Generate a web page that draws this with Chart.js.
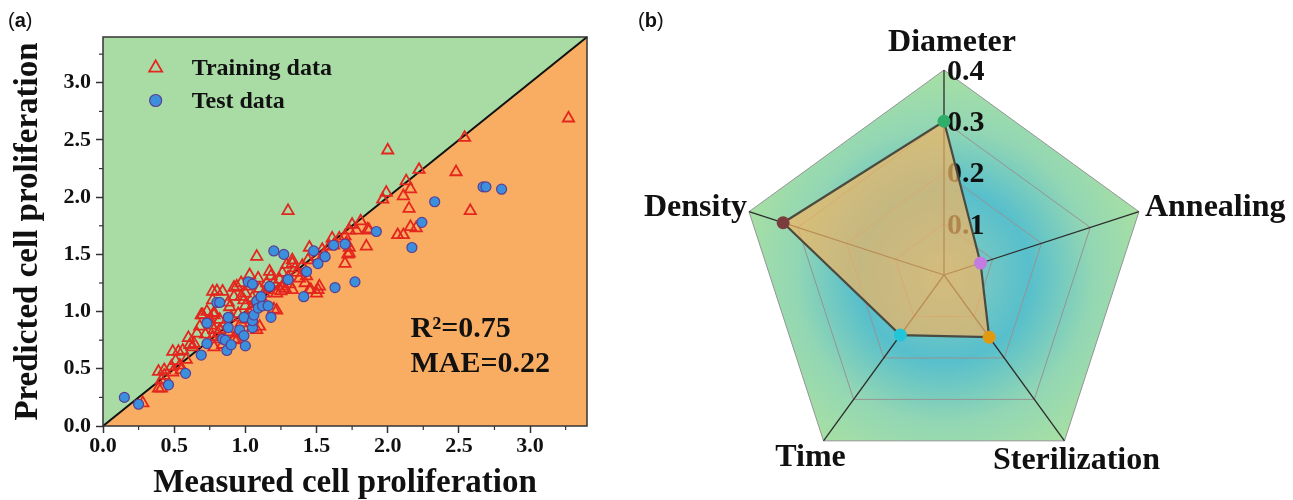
<!DOCTYPE html>
<html>
<head>
<meta charset="utf-8">
<title>Cell proliferation - prediction and feature importance</title>
<script src="https://cdn.jsdelivr.net/npm/chart.js@4.4.0/dist/chart.umd.min.js"></script>
<style>
    html, body { margin: 0; padding: 0; background: #fff; }
    #wrap { position: relative; width: 1293px; height: 500px; overflow: hidden; }
    #scatterChart { position: absolute; left: 0; top: 0; }
    #radarChart { position: absolute; left: 640px; top: 0; }
    .panel-tag { position: absolute; font-family: "Liberation Sans", Arial, sans-serif; font-size: 20px; color: #111; }
</style>
</head>
<body>
<div id="wrap">
    <canvas id="scatterChart" width="620" height="500"></canvas>
    <canvas id="radarChart" width="653" height="500"></canvas>
    <div class="panel-tag" style="left:8px; top:9px;">(<b>a</b>)</div>
    <div class="panel-tag" style="left:638px; top:9px;">(<b>b</b>)</div>
</div>
<script>
// ---- Data ----

// (a) training data: measured vs predicted
const trainMeasured = [
    3.27, 2.54, 2.00, 1.30, 2.48, 2.22, 2.13, 2.16, 2.11, 1.99, 1.965, 2.58, 2.15, 2.16, 2.20,
    2.07, 2.11, 1.87, 1.85, 1.81, 1.75, 1.78, 1.73, 1.71, 1.73, 1.70, 1.73, 1.61, 1.59, 1.54,
    1.50, 1.45, 1.46, 1.51, 1.43, 1.45, 1.52, 1.50, 1.33, 1.36, 1.38, 1.42, 1.33, 1.29, 1.33,
    1.26, 1.24, 1.28, 1.17, 1.18, 1.16, 1.22, 1.26, 1.22, 1.20, 1.13, 1.08, 1.03, 1.09, 1.02,
    1.00, 0.97, 0.92, 0.94, 0.92, 0.97, 0.89, 0.88, 0.84, 0.77, 0.80, 0.77, 0.78, 0.82, 0.73,
    0.70, 0.75, 0.69, 0.78, 0.76, 0.68, 0.66, 0.78, 0.81, 0.82, 0.77, 0.82, 0.84, 0.78, 0.94,
    0.60, 0.64, 0.61, 0.56, 0.53, 0.49, 0.585, 0.54, 0.51, 0.48, 0.43, 0.39, 0.49, 0.55, 0.43,
    0.41, 0.39, 0.41, 0.28, 1.00, 1.05, 1.10, 1.08, 1.01, 0.94, 0.92, 0.97, 1.04, 1.06, 1.12,
    0.95, 1.00, 1.15, 1.10, 1.05, 1.20, 1.30, 1.35, 1.40, 1.44, 1.55, 1.62, 1.66, 1.70, 1.72,
    1.86, 0.86, 0.90, 0.99, 1.14, 1.25, 1.31, 0.88, 0.72, 0.63
];
const trainPredicted = [
    2.69, 2.52, 2.41, 1.88, 2.22, 2.24, 2.14, 2.07, 2.01, 2.04, 1.98, 1.88, 1.90, 1.74, 1.73,
    1.67, 1.67, 1.71, 1.57, 1.79, 1.76, 1.71, 1.71, 1.60, 1.51, 1.42, 1.56, 1.64, 1.57, 1.54,
    1.48, 1.56, 1.19, 1.19, 1.31, 1.19, 1.22, 1.16, 1.42, 1.34, 1.29, 1.25, 1.19, 1.41, 1.45,
    1.34, 1.28, 1.20, 1.35, 1.31, 1.19, 1.16, 1.22, 1.01, 1.02, 1.16, 1.48, 1.32, 1.29, 1.22,
    1.16, 1.25, 1.21, 1.22, 1.13, 1.13, 1.04, 1.08, 1.175, 1.175, 1.18, 1.10, 0.99, 0.93, 1.00,
    0.97, 0.93, 0.97, 0.97, 0.88, 0.87, 0.81, 0.84, 0.81, 0.84, 0.78, 0.76, 0.71, 0.69, 0.75,
    0.77, 0.72, 0.71, 0.66, 0.65, 0.65, 0.58, 0.53, 0.57, 0.52, 0.49, 0.475, 0.47, 0.49, 0.44,
    0.40, 0.33, 0.33, 0.20, 0.93, 0.86, 0.87, 0.84, 0.96, 0.81, 0.76, 0.90, 1.02, 1.07, 1.10,
    0.98, 1.05, 1.25, 1.20, 1.12, 1.25, 1.30, 1.38, 1.40, 1.45, 1.50, 1.58, 1.64, 1.66, 1.50,
    1.72, 0.90, 0.95, 1.10, 1.06, 1.18, 1.24, 0.82, 0.80, 0.69
];

// (a) test data: measured vs predicted
const testMeasured = [
    0.15, 0.25, 0.46, 0.58, 0.69, 0.73, 0.73, 0.80, 0.82, 0.84, 0.87, 0.86, 0.90, 0.88, 0.88,
    0.96, 0.99, 1.00, 0.99, 1.05, 1.05, 1.06, 1.02, 1.05, 1.08, 1.09, 1.12, 1.11, 1.16, 1.17,
    1.18, 1.20, 1.27, 1.30, 1.41, 1.43, 1.48, 1.51, 1.56, 1.62, 1.63, 1.70, 1.77, 1.92, 2.17,
    2.24, 2.33, 2.67, 2.69, 2.80
];
const testPredicted = [
    0.25, 0.19, 0.36, 0.46, 0.62, 0.72, 0.90, 1.08, 1.08, 0.76, 0.66, 0.75, 0.71, 0.86, 0.95,
    0.84, 0.79, 0.70, 0.95, 0.86, 0.92, 0.97, 1.26, 1.24, 1.09, 1.03, 1.05, 1.13, 1.05, 1.22,
    0.95, 1.53, 1.50, 1.28, 1.13, 1.35, 1.53, 1.42, 1.48, 1.58, 1.21, 1.59, 1.26, 1.70, 1.56,
    1.78, 1.96, 2.09, 2.09, 2.07
];

// (a) axis range and stats
const axisMax = 3.4;
const fitStats = ['R\u00B2=0.75', 'MAE=0.22'];

// (b) feature importance
const featureNames = ['Diameter', 'Annealing', 'Sterilization', 'Time', 'Density'];
const featureImportance = [0.30, 0.075, 0.15, 0.145, 0.33];
const featureColors = ['#2fae6a', '#c47ce0', '#e09a12', '#22c6d8', '#7a3c3c'];
const radarTicks = [0.1, 0.2, 0.3, 0.4];

// ---- Shared styles ----
const serif = '"Liberation Serif", "Times New Roman", serif';
const trainColor = '#e3261e';
const testFill = '#3c8fdc';
const testBorder = '#5a3f92';

function toPoints(xs, ys) {
    return xs.map((x, i) => ({ x: x, y: ys[i] }));
}

function isMajor(v) {
    return Math.abs(v * 2 - Math.round(v * 2)) < 1e-6;
}
function isQuarter(v) {
    return Math.abs(v * 4 - Math.round(v * 4)) < 1e-6;
}

// ---- (a) Scatter ----
const scatterDecor = {
    id: 'scatterDecor',
    beforeDraw(chart) {
        const { ctx, chartArea: a, scales: { x, y } } = chart;
        ctx.save();
        // region below y = x
        ctx.fillStyle = '#f9ad62';
        ctx.fillRect(a.left, a.top, a.right - a.left, a.bottom - a.top);
        // region above y = x
        ctx.fillStyle = '#a9dca5';
        ctx.beginPath();
        ctx.moveTo(x.getPixelForValue(0), y.getPixelForValue(0));
        ctx.lineTo(x.getPixelForValue(0), y.getPixelForValue(axisMax));
        ctx.lineTo(x.getPixelForValue(axisMax), y.getPixelForValue(axisMax));
        ctx.closePath();
        ctx.fill();
        ctx.restore();
    },
    beforeDatasetsDraw(chart) {
        const { ctx, scales: { x, y } } = chart;
        ctx.save();
        ctx.strokeStyle = '#111';
        ctx.lineWidth = 2;
        ctx.beginPath();
        ctx.moveTo(x.getPixelForValue(0), y.getPixelForValue(0));
        ctx.lineTo(x.getPixelForValue(axisMax), y.getPixelForValue(axisMax));
        ctx.stroke();
        ctx.restore();
    },
    afterDraw(chart) {
        const { ctx, chartArea: a, scales: { x, y } } = chart;
        ctx.save();
        // frame
        ctx.strokeStyle = '#333';
        ctx.lineWidth = 1.5;
        ctx.strokeRect(a.left, a.top, a.right - a.left, a.bottom - a.top);

        // minor ticks
        ctx.lineWidth = 1.2;
        x.ticks.forEach(t => {
            if (isQuarter(t.value) && !isMajor(t.value)) {
                const px = x.getPixelForValue(t.value);
                ctx.beginPath(); ctx.moveTo(px, a.bottom); ctx.lineTo(px, a.bottom + 4); ctx.stroke();
            }
        });
        y.ticks.forEach(t => {
            if (isQuarter(t.value) && !isMajor(t.value)) {
                const py = y.getPixelForValue(t.value);
                ctx.beginPath(); ctx.moveTo(a.left, py); ctx.lineTo(a.left - 4, py); ctx.stroke();
            }
        });

        // legend inside the plot
        const items = chart.data.datasets;
        const lx = x.getPixelForValue(0.37);
        items.forEach((ds, i) => {
            const ly = y.getPixelForValue(3.13 - i * 0.285);
            ctx.fillStyle = ds.backgroundColor;
            ctx.strokeStyle = ds.borderColor;
            ctx.lineWidth = ds.borderWidth;
            Chart.helpers.drawPoint(ctx, {
                pointStyle: ds.pointStyle, radius: ds.pointRadius + 1,
                borderWidth: ds.borderWidth, rotation: 0
            }, lx, ly);
            ctx.fillStyle = '#111';
            ctx.font = 'bold 24px ' + serif;
            ctx.textAlign = 'left';
            ctx.textBaseline = 'middle';
            ctx.fillText(ds.label, lx + 36, ly + 1);
        });

        // fit statistics
        ctx.font = 'bold 30px ' + serif;
        ctx.fillStyle = '#111';
        ctx.textAlign = 'left';
        ctx.textBaseline = 'middle';
        fitStats.forEach((s, i) => {
            ctx.fillText(s, x.getPixelForValue(2.16), y.getPixelForValue(0.85 - i * 0.31));
        });
        ctx.restore();
    }
};

const tickFont = { family: serif, size: 22, weight: 'bold' };
const titleFont = { family: serif, size: 33, weight: 'bold', lineHeight: 1 };

new Chart(document.getElementById('scatterChart'), {
    type: 'scatter',
    data: {
        datasets: [
            {
                label: 'Training data',
                data: toPoints(trainMeasured, trainPredicted),
                pointStyle: 'triangle',
                pointRadius: 6.5,
                borderWidth: 1.8,
                borderColor: trainColor,
                backgroundColor: 'rgba(0,0,0,0)',
                order: 2
            },
            {
                label: 'Test data',
                data: toPoints(testMeasured, testPredicted),
                pointStyle: 'circle',
                pointRadius: 5,
                borderWidth: 1.2,
                borderColor: testBorder,
                backgroundColor: testFill,
                order: 1
            }
        ]
    },
    options: {
        responsive: false,
        animation: false,
        layout: { padding: { left: 0, top: 37, right: 33, bottom: 0 } },
        plugins: { legend: { display: false }, tooltip: { enabled: false } },
        scales: {
            x: {
                type: 'linear', min: 0, max: axisMax,
                border: { display: false },
                grid: {
                    drawOnChartArea: false, tickLength: 7, tickWidth: 1.5,
                    tickColor: c => (c.tick && isMajor(c.tick.value)) ? '#333' : 'rgba(0,0,0,0)'
                },
                ticks: {
                    stepSize: 0.25, includeBounds: false, autoSkip: false, maxRotation: 0,
                    padding: 0, color: '#111', font: tickFont,
                    callback: v => isMajor(v) ? v.toFixed(1) : ''
                },
                title: { display: true, text: 'Measured cell proliferation', color: '#111', font: titleFont, padding: { top: 0, bottom: 0 } },
                afterFit: s => { s.height = 74; }
            },
            y: {
                type: 'linear', min: 0, max: axisMax,
                border: { display: false },
                grid: {
                    drawOnChartArea: false, tickLength: 7, tickWidth: 1.5,
                    tickColor: c => (c.tick && isMajor(c.tick.value)) ? '#333' : 'rgba(0,0,0,0)'
                },
                ticks: {
                    stepSize: 0.25, includeBounds: false, autoSkip: false,
                    padding: 5, color: '#111', font: tickFont,
                    callback: v => isMajor(v) ? v.toFixed(1) : ''
                },
                title: { display: true, text: 'Predicted cell proliferation', color: '#111', font: titleFont, padding: { top: 12, bottom: 0 } },
                afterFit: s => { s.width = 103; }
            }
        }
    },
    plugins: [scatterDecor]
});

// ---- (b) Radar ----
const radarDecor = {
    id: 'radarDecor',
    beforeDraw(chart) {
        const { ctx } = chart;
        const r = chart.scales.r;
        const cx = r.xCenter, cy = r.yCenter, R = r.drawingArea;
        const g = ctx.createRadialGradient(cx, cy, 0, cx, cy, R);
        g.addColorStop(0, '#8ccfbd');
        g.addColorStop(0.42, '#57bfcc');
        g.addColorStop(0.72, '#92d6b4');
        g.addColorStop(1, '#a7e0a3');
        ctx.save();
        ctx.fillStyle = g;
        ctx.beginPath();
        featureNames.forEach((n, i) => {
            const p = r.getPointPosition(i, R);
            if (i === 0) ctx.moveTo(p.x, p.y); else ctx.lineTo(p.x, p.y);
        });
        ctx.closePath();
        ctx.fill();
        ctx.restore();
    },
    beforeDatasetsDraw(chart) {
        // tick labels sit under the polygon fill
        const { ctx } = chart;
        const r = chart.scales.r;
        ctx.save();
        ctx.font = 'bold 30px ' + serif;
        ctx.fillStyle = '#111';
        ctx.textAlign = 'left';
        ctx.textBaseline = 'middle';
        radarTicks.forEach(v => {
            const d = r.getDistanceFromCenterForValue(v);
            ctx.fillText(v.toFixed(1), r.xCenter + 3, r.yCenter - d + 2);
        });
        ctx.restore();
    },
    afterDraw(chart) {
        const { ctx } = chart;
        const r = chart.scales.r;
        ctx.save();
        ctx.font = 'bold 32px ' + serif;
        ctx.fillStyle = '#111';
        featureNames.forEach((n, i) => {
            const p = r.getPointPosition(i, r.drawingArea);
            const dx = p.x - r.xCenter, dy = p.y - r.yCenter;
            if (Math.abs(dx) < 1) {
                ctx.textAlign = 'center'; ctx.textBaseline = 'bottom';
                ctx.fillText(n, p.x + 8, p.y - 11);
            } else if (dy < 0) {
                ctx.textAlign = dx > 0 ? 'left' : 'right'; ctx.textBaseline = 'middle';
                ctx.fillText(n, p.x + (dx > 0 ? 6 : -2), p.y - 4);
            } else {
                ctx.textAlign = 'center'; ctx.textBaseline = 'top';
                ctx.fillText(n, p.x + (dx > 0 ? 12 : -13), p.y + (dx > 0 ? 4 : 1));
            }
        });
        ctx.restore();
    }
};

new Chart(document.getElementById('radarChart'), {
    type: 'radar',
    data: {
        labels: featureNames,
        datasets: [{
            data: featureImportance,
            backgroundColor: 'rgba(240,180,100,0.72)',
            borderColor: '#4a4a40',
            borderWidth: 2.2,
            pointRadius: 6.5,
            pointBorderWidth: 0,
            pointBackgroundColor: featureColors,
            pointBorderColor: featureColors
        }]
    },
    options: {
        responsive: false,
        animation: false,
        layout: { padding: { left: 99, right: 144, top: 70, bottom: 20 } },
        plugins: { legend: { display: false }, tooltip: { enabled: false } },
        scales: {
            r: {
                min: 0, max: 0.4,
                ticks: { stepSize: 0.1, display: false, showLabelBackdrop: false },
                grid: { color: '#949494', lineWidth: 1 },
                angleLines: { color: '#2d2d2d', lineWidth: 1.3 },
                pointLabels: { display: false }
            }
        }
    },
    plugins: [radarDecor]
});
</script>
</body>
</html>
